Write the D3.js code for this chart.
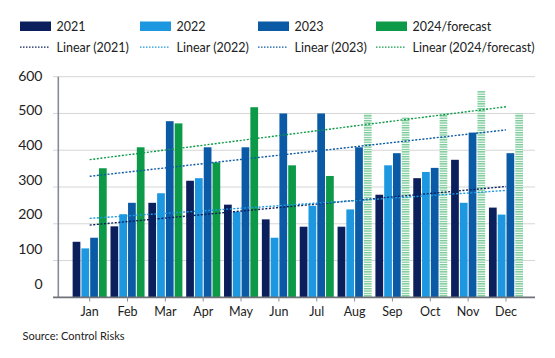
<!DOCTYPE html>
<html><head><meta charset="utf-8">
<script src="https://cdn.jsdelivr.net/npm/d3@7"></script>
<style>
html,body{margin:0;padding:0;background:#fff;}
svg text{font-family:Lato,"Open Sans",sans-serif;fill:#222;}
</style></head>
<body><svg id="c" width="555" height="358"></svg>
<script>
const months = ["Jan","Feb","Mar","Apr","May","Jun","Jul","Aug","Sep","Oct","Nov","Dec"];
const seriesNames = ["2021","2022","2023","2024/forecast"];
const v2021 = [151,193,257,317,252,212,192,192,279,324,374,244];
const v2022 = [133,226,283,324,233,162,249,239,359,341,257,225];
const v2023 = [162,257,479,408,408,500,500,408,392,352,448,392];
const v2024 = [351,408,473,367,517,359,330,500,490,500,561,500];
const forecastFlags = [false,false,false,false,false,false,false,true,true,true,true,true];
const yTicks = [0,100,200,300,400,500,600];
const colors = ["#0b1f5c","#1d98e0","#0b5aa6","#0c9a48"];
const trendColors = ["#0b1f5c","#1d98e0","#0b5aa6","#0c9a48"];
const seriesValues = [v2021,v2022,v2023,v2024];

const svg = d3.select("#c");
const defs = svg.append("defs");
const pat = defs.append("pattern").attr("id","hatch").attr("patternUnits","userSpaceOnUse")
  .attr("width",4).attr("height",2.4);
pat.append("rect").attr("width",4).attr("height",2.4).attr("fill","#ffffff");
pat.append("rect").attr("width",4).attr("height",1.3).attr("fill","#74c894");

const y = d3.scaleLinear().domain([0,600]).range([297.3,76.7]);
const yLab = d3.scaleLinear().domain([0,600]).range([284,75.7]);
const x = d3.scaleBand().domain(months).range([58,536]).paddingInner(0.1).paddingOuter(0.365).align(0.53);
const xs = d3.scaleBand().domain(seriesNames).range([0,x.bandwidth()]).paddingInner(0.12).paddingOuter(0);

// gridlines
svg.append("g").selectAll("line").data(yTicks.filter(d=>d>0)).join("line")
  .attr("x1",53).attr("x2",535).attr("y1",d=>y(d)).attr("y2",d=>y(d))
  .attr("stroke","#d6d6d6").attr("stroke-width",1);

// y labels
svg.append("g").selectAll("text").data(yTicks).join("text")
  .attr("x",42.5).attr("y",d=>yLab(d)).attr("text-anchor","end").attr("dy","0.35em")
  .style("font-size","14px").text(d=>d);

// bars
const g = svg.append("g");
months.forEach((m,i)=>{
  seriesNames.forEach((s,j)=>{
    const v = seriesValues[j][i];
    const hatched = j===3 && forecastFlags[i];
    g.append("rect").attr("x",x(m)+xs(s)).attr("width",xs.bandwidth())
      .attr("y",y(v)).attr("height",y(0)-y(v))
      .attr("fill",hatched?"url(#hatch)":colors[j]);
  });
});

// trendlines (linear regression as in chart)
seriesValues.forEach((vals,j)=>{
  const n = vals.length;
  const xm = (n+1)/2, ym = d3.mean(vals);
  let sxy=0,sxx=0;
  vals.forEach((v,k)=>{const dx=(k+1)-xm; sxy+=dx*v; sxx+=dx*dx;});
  const b = sxy/sxx, a = ym - b*xm;
  const p0 = a+b*1, p1 = a+b*n;
  svg.append("line")
    .attr("x1",x(months[0])+x.bandwidth()/2).attr("x2",x(months[n-1])+x.bandwidth()/2)
    .attr("y1",y(p0)).attr("y2",y(p1))
    .attr("stroke",trendColors[j]).attr("stroke-width",1.4).attr("stroke-dasharray","2,1.6");
});

// axes lines
svg.append("line").attr("x1",58.3).attr("x2",58.3).attr("y1",76.7).attr("y2",297.3)
  .attr("stroke","#858a94").attr("stroke-width",1.6);
svg.append("line").attr("x1",53).attr("x2",535).attr("y1",297.3).attr("y2",297.3)
  .attr("stroke","#6e7279").attr("stroke-width",1.8);
// x ticks and labels
svg.append("g").selectAll("line").data(months).join("line")
  .attr("x1",d=>x(d)+x.bandwidth()/2).attr("x2",d=>x(d)+x.bandwidth()/2)
  .attr("y1",297.3).attr("y2",301.5).attr("stroke","#8a8e96").attr("stroke-width",1);
svg.append("g").selectAll("text").data(months).join("text")
  .attr("x",d=>x(d)+x.bandwidth()/2).attr("y",312).attr("dy","0.35em")
  .attr("text-anchor","middle").style("font-size","12.5px").text(d=>d);

// legend
const legX = [20,140,258,376];
seriesNames.forEach((s,j)=>{
  svg.append("rect").attr("x",legX[j]).attr("y",21.5).attr("width",31).attr("height",9.5).attr("fill",colors[j]);
  svg.append("text").attr("x",legX[j]+36.5).attr("y",26.3).attr("dy","0.35em").style("font-size","12.5px").text(s);
  svg.append("line").attr("x1",legX[j]).attr("x2",legX[j]+29).attr("y1",47.2).attr("y2",47.2)
    .attr("stroke",trendColors[j]).attr("stroke-width",1.2).attr("stroke-dasharray","1.5,1.5");
  svg.append("text").attr("x",legX[j]+36.5).attr("y",47.2).attr("dy","0.35em").style("font-size","12.5px").text("Linear ("+s+")");
});

svg.append("text").attr("x",22.5).attr("y",336).attr("dy","0.35em").style("font-size","11px").text("Source: Control Risks");
</script></body></html>
